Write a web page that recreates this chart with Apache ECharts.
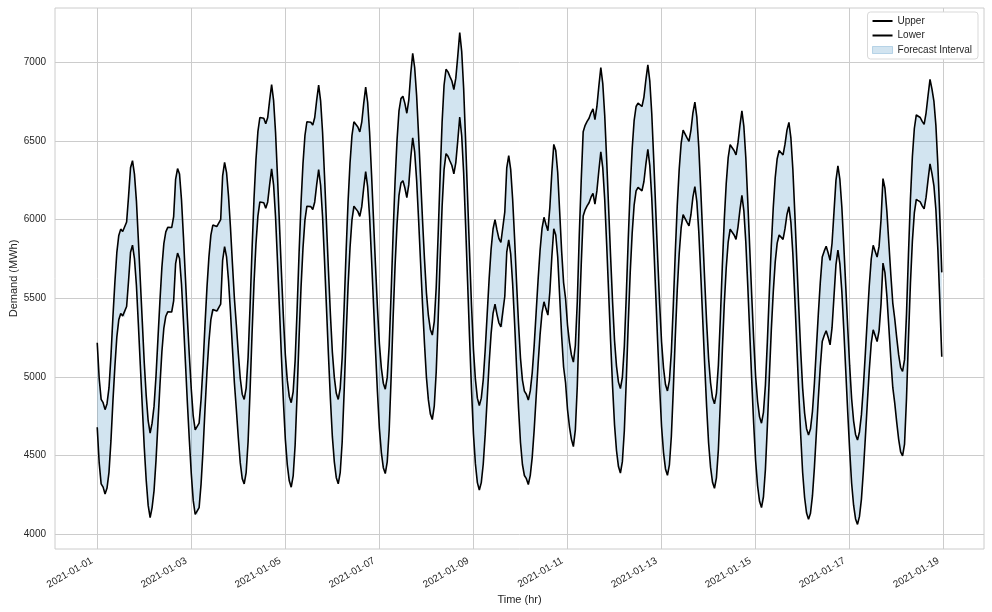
<!DOCTYPE html>
<html><head><meta charset="utf-8">
<script src="https://cdn.jsdelivr.net/npm/echarts@6/dist/echarts.min.js"></script>
<style>html,body{margin:0;padding:0;background:#fff}#c{width:992px;height:612px}</style>
</head><body><div id="c"></div>
<script>
// Hourly series starting 2021-01-01 00:00 (local time)
const startDate = [2021, 0, 1];
const tickLabels = ['2021-01-01','2021-01-03','2021-01-05','2021-01-07','2021-01-09','2021-01-11','2021-01-13','2021-01-15','2021-01-17','2021-01-19'];
const yTicks = [4000, 4500, 5000, 5500, 6000, 6500, 7000];
const seriesNames = ['Upper', 'Lower', 'Forecast Interval'];

const upper = [
5217,4990,4857,4836,4792,4830,4930,5130,5380,5600,5790,5900,5940,5925,5915,5985,6150,6330,6375,6290,6120,5870,5610,5350,
5090,4880,4720,4642,4706,4814,5006,5245,5482,5697,5848,5923,5951,5945,5950,6020,6257,6325,6290,6128,5891,5632,5374,5137,
4922,4750,4663,4653,4706,4857,5072,5331,5568,5762,5902,5966,5962,5956,5951,6000,6279,6365,6300,6150,5950,5720,5500,5330,
5150,4990,4890,4857,4929,5126,5449,5807,6130,6381,6560,6650,6655,6645,6610,6650,6760,6860,6759,6556,6273,5969,5666,5382,
5140,4978,4876,4836,4907,5104,5426,5783,6105,6355,6534,6623,6630,6620,6602,6650,6760,6856,6756,6556,6276,5976,5677,5397,
5157,4997,4896,4857,4928,5122,5440,5793,6111,6358,6535,6623,6620,6590,6558,6620,6740,6843,6747,6555,6286,6000,5710,5441,
5210,5056,4960,4922,4997,5201,5537,5910,6245,6506,6692,6770,6785,6740,6677,6760,6930,7058,6968,6789,6538,6270,6001,5751,
5535,5391,5302,5266,5351,5570,5909,6281,6619,6855,6957,6940,6910,6882,6828,6900,7040,7190,7071,6834,6502,6146,5791,5458,
5174,4984,4865,4818,4865,4983,5173,5397,5622,5811,5941,6000,5935,5880,5855,5848,6050,6330,6408,6320,6130,5880,5600,5340,
5120,4980,4910,4890,4853,4911,5027,5202,5411,5620,5806,5945,6015,5970,5930,6080,6300,6479,6440,6300,6050,5800,5600,5500,
5330,5220,5140,5094,5200,5480,5900,6250,6560,6600,6625,6645,6680,6705,6636,6720,6850,6968,6866,6662,6376,6070,5763,5477,
5232,5069,4967,4926,4998,5195,5518,5877,6200,6451,6630,6720,6742,6735,6720,6780,6890,6985,6881,6674,6384,6072,5761,5471,
5222,5056,4952,4911,4977,5160,5458,5790,6088,6320,6486,6569,6560,6520,6498,6570,6680,6748,6652,6460,6191,5904,5616,5347,
5117,4963,4867,4829,4895,5076,5373,5702,5999,6230,6395,6477,6470,6440,6412,6490,6600,6692,6593,6394,6116,5818,5520,5242,
5004,4845,4746,4706,4775,4949,5226,5538,5833,6076,6267,6388,6440,6435,6412,6480,6570,6619,6520,6321,6042,5744,5446,5168,
4929,4770,4671,4631,4670,4780,4960,5180,5400,5600,5762,5800,5831,5790,5741,5850,6050,6250,6343,6256,6081,5837,5576,5314,
5070,4861,4721,4634,4599,4650,4760,4940,5150,5370,5580,5750,5837,5800,5762,5830,6000,6261,6200,6050,5850,5650,5470,5370,
5250,5140,5060,5035,5110,5400,5780,6130,6400,6580,6666,6677,6650,6625,6606,6680,6790,6892,6830,6752,6600,6350,6020,5665
];

const lower = [
4680,4453,4320,4299,4255,4293,4393,4593,4843,5063,5253,5363,5403,5388,5378,5448,5613,5793,5838,5753,5583,5333,5073,4813,
4553,4343,4183,4105,4169,4277,4469,4708,4945,5160,5311,5386,5414,5408,5413,5483,5720,5788,5753,5591,5354,5095,4837,4600,
4385,4213,4126,4116,4169,4320,4535,4794,5031,5225,5365,5429,5425,5419,5414,5463,5742,5828,5763,5613,5413,5183,4963,4793,
4613,4453,4353,4320,4392,4589,4912,5270,5593,5844,6023,6113,6118,6108,6073,6113,6223,6323,6222,6019,5736,5432,5129,4845,
4603,4441,4339,4299,4370,4567,4889,5246,5568,5818,5997,6086,6093,6083,6065,6113,6223,6319,6219,6019,5739,5439,5140,4860,
4620,4460,4359,4320,4391,4585,4903,5256,5574,5821,5998,6086,6083,6053,6021,6083,6203,6306,6210,6018,5749,5463,5173,4904,
4673,4519,4423,4385,4460,4664,5000,5373,5708,5969,6155,6233,6248,6203,6140,6223,6393,6521,6431,6252,6001,5733,5464,5214,
4998,4854,4765,4729,4814,5033,5372,5744,6082,6318,6420,6403,6373,6345,6291,6363,6503,6653,6534,6297,5965,5609,5254,4921,
4637,4447,4328,4281,4328,4446,4636,4860,5085,5274,5404,5463,5398,5343,5318,5311,5513,5793,5871,5783,5593,5343,5063,4803,
4583,4443,4373,4353,4316,4374,4490,4665,4874,5083,5269,5408,5478,5433,5393,5543,5763,5942,5903,5763,5513,5263,5063,4963,
4793,4683,4603,4557,4663,4943,5363,5713,6023,6063,6088,6108,6143,6168,6099,6183,6313,6431,6329,6125,5839,5533,5226,4940,
4695,4532,4430,4389,4461,4658,4981,5340,5663,5914,6093,6183,6205,6198,6183,6243,6353,6448,6344,6137,5847,5535,5224,4934,
4685,4519,4415,4374,4440,4623,4921,5253,5551,5783,5949,6032,6023,5983,5961,6033,6143,6211,6115,5923,5654,5367,5079,4810,
4580,4426,4330,4292,4358,4539,4836,5165,5462,5693,5858,5940,5933,5903,5875,5953,6063,6155,6056,5857,5579,5281,4983,4705,
4467,4308,4209,4169,4238,4412,4689,5001,5296,5539,5730,5851,5903,5898,5875,5943,6033,6082,5983,5784,5505,5207,4909,4631,
4392,4233,4134,4094,4133,4243,4423,4643,4863,5063,5225,5263,5294,5253,5204,5313,5513,5713,5806,5719,5544,5300,5039,4777,
4533,4324,4184,4097,4062,4113,4223,4403,4613,4833,5043,5213,5300,5263,5225,5293,5463,5724,5663,5513,5313,5113,4933,4833,
4713,4603,4523,4498,4573,4863,5243,5593,5863,6043,6129,6140,6113,6088,6069,6143,6253,6355,6293,6215,6063,5813,5483,5128
];

const HOUR = 3600 * 1000;
const t0 = new Date(startDate[0], startDate[1], startDate[2]).getTime();
const times = upper.map((_, i) => t0 + i * HOUR);
const tickTimes = tickLabels.map(s => { const p = s.split('-').map(Number); return new Date(p[0], p[1] - 1, p[2]).getTime(); });

// matplotlib-like 5% margins
const span = times[times.length - 1] - times[0];
const xMin = times[0] - span * 0.05, xMax = times[times.length - 1] + span * 0.05;
const allV = upper.concat(lower);
const vMin = Math.min(...allV), vMax = Math.max(...allV);
const yMin = vMin - (vMax - vMin) * 0.05, yMax = vMax + (vMax - vMin) * 0.05;

const pad = n => (n < 10 ? '0' : '') + n;
const fmtDate = v => { const d = new Date(v); return d.getFullYear() + '-' + pad(d.getMonth() + 1) + '-' + pad(d.getDate()); };

// rows are [value, time]; encode maps time -> x, value -> y (so stacking acts on the value)
const upperData = times.map((t, i) => [upper[i], t]);
const lowerData = times.map((t, i) => [lower[i], t]);
const bandData = times.map((t, i) => [upper[i] - lower[i], t]);
const ENC = { x: 1, y: 0 };

const FONT = "'Liberation Sans', Arial, sans-serif";
const TXT = '#262626';
const FILL = 'rgba(31,119,180,0.2)';

const chart = echarts.init(document.getElementById('c'), null, { renderer: 'canvas' });
chart.setOption({
  animation: false,
  backgroundColor: '#fff',
  textStyle: { fontFamily: FONT },
  grid: { left: 55, right: 8, top: 8, bottom: 63, show: true, borderColor: '#cccccc', borderWidth: 1,
          backgroundColor: 'rgba(0,0,0,0)', containLabel: false, outerBoundsMode: 'none' },
  legend: {
    orient: 'vertical', right: 14, top: 12,
    padding: [3, 6, 3, 4], itemGap: 2.5, itemWidth: 20, itemHeight: 7,
    backgroundColor: '#fff', borderColor: '#d9d9d9', borderWidth: 1, borderRadius: 3,
    textStyle: { fontSize: 10, color: TXT, fontFamily: FONT, lineHeight: 12 },
    data: [
      { name: seriesNames[0], itemStyle: { opacity: 0 } },
      { name: seriesNames[1], itemStyle: { opacity: 0 } },
      { name: seriesNames[2], icon: 'rect', itemStyle: { color: FILL, borderColor: 'rgba(31,119,180,0.25)', borderWidth: 1 } }
    ]
  },
  xAxis: {
    type: 'value', min: xMin, max: xMax,
    name: 'Time (hr)', nameLocation: 'middle', nameGap: 45, nameMoveOverlap: false,
    nameTextStyle: { fontSize: 11, color: TXT, fontFamily: FONT },
    axisLine: { show: false },
    axisTick: { show: false, customValues: tickTimes },
    axisLabel: { customValues: tickTimes, formatter: v => fmtDate(v), rotate: 30, fontSize: 10, color: TXT,
                 margin: 8, padding: [0, 6, 0, 0], fontFamily: FONT },
    splitLine: { show: true, lineStyle: { color: '#cccccc', width: 1 } }
  },
  yAxis: {
    type: 'value', min: yMin, max: yMax,
    name: 'Demand (MWh)', nameLocation: 'middle', nameGap: 36, nameRotate: 90, nameMoveOverlap: false,
    nameTextStyle: { fontSize: 11, color: TXT, fontFamily: FONT },
    axisLine: { show: false },
    axisTick: { show: false, customValues: yTicks },
    axisLabel: { customValues: yTicks, formatter: v => String(v), fontSize: 10, color: TXT, margin: 9, fontFamily: FONT },
    splitLine: { show: true, lineStyle: { color: '#cccccc', width: 1 } }
  },
  series: [
    { name: 'base', type: 'line', data: lowerData, encode: ENC, stack: 'band', symbol: 'none', showSymbol: false,
      lineStyle: { opacity: 0 }, silent: true, z: 2 },
    { name: seriesNames[2], type: 'line', data: bandData, encode: ENC, stack: 'band', symbol: 'none', showSymbol: false,
      lineStyle: { opacity: 0 }, areaStyle: { color: FILL, opacity: 1 }, itemStyle: { color: FILL }, silent: true, z: 2 },
    { name: seriesNames[0], type: 'line', data: upperData, encode: ENC, symbol: 'none', showSymbol: false,
      lineStyle: { color: '#000', width: 1.6 }, itemStyle: { color: '#000' }, z: 3 },
    { name: seriesNames[1], type: 'line', data: lowerData, encode: ENC, symbol: 'none', showSymbol: false,
      lineStyle: { color: '#000', width: 1.6 }, itemStyle: { color: '#000' }, z: 3 }
  ]
});
</script>
</body></html>
